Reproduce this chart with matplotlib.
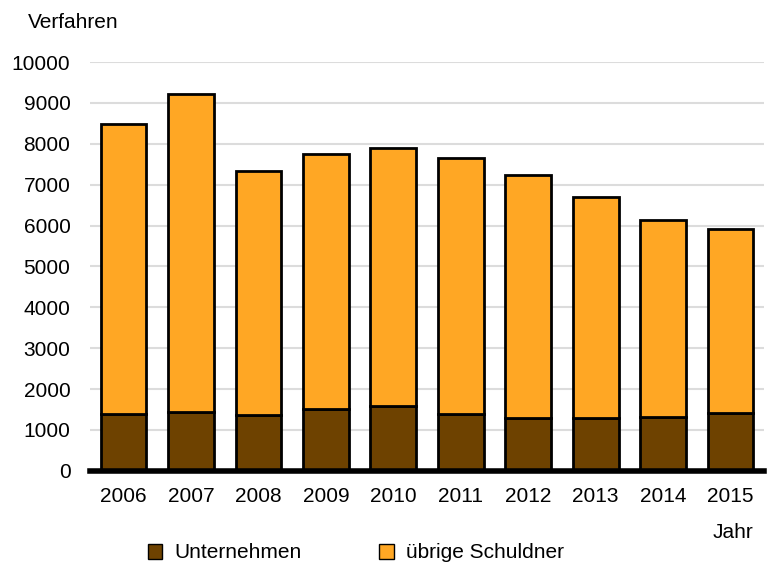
import matplotlib
matplotlib.use('Agg')
import matplotlib.pyplot as plt
import numpy as np
from matplotlib.patches import Patch

plt.rcParams['font.family'] = ['Liberation Sans', 'DejaVu Sans']

jahre = ['2006', '2007', '2008', '2009', '2010', '2011', '2012', '2013', '2014', '2015']
gesamt = [8480, 9210, 7340, 7755, 7910, 7660, 7245, 6700, 6145, 5925]
unternehmen = [1395, 1430, 1365, 1505, 1575, 1390, 1295, 1285, 1310, 1415]
uebrige = [g - u for g, u in zip(gesamt, unternehmen)]

braun = '#6E4200'
orange = '#FFA724'
fs = 15

fig = plt.figure(figsize=(7.68, 5.70), dpi=100)
ax = fig.add_axes([0.117, 0.174, 0.878, 0.717])

x = np.arange(len(jahre))
ax.bar(x, unternehmen, width=0.68, color=braun, edgecolor='black', linewidth=2, zorder=3)
ax.bar(x, uebrige, width=0.68, bottom=unternehmen, color=orange, edgecolor='black', linewidth=2, zorder=3)

ax.set_xlim(-0.5, 9.5)
ax.set_ylim(0, 10000)
ax.set_yticks(range(0, 10001, 1000))
ax.set_xticks(x)
ax.set_xticklabels(jahre)
ax.tick_params(axis='both', length=0, labelsize=fs)
ax.tick_params(axis='x', pad=12)
ax.tick_params(axis='y', pad=14)
ax.grid(axis='y', color='#DCDCDC', linewidth=1.5, zorder=0)

for s in ['top', 'right', 'left']:
    ax.spines[s].set_visible(False)
ax.spines['bottom'].set_linewidth(4)
ax.spines['bottom'].set_zorder(4)

fig.text(28 / 768, 1 - 22 / 570, 'Verfahren', fontsize=fs, va='center', ha='left')
fig.text(753 / 768, 1 - 532 / 570, 'Jahr', fontsize=fs, va='center', ha='right')

handles = [Patch(facecolor=braun, edgecolor='black', linewidth=1),
           Patch(facecolor=orange, edgecolor='black', linewidth=1)]
fig.legend(handles, ['Unternehmen', 'übrige Schuldner'], loc='center',
           bbox_to_anchor=(0.463, 1 - 553 / 570), ncol=2, frameon=False, fontsize=fs,
           handlelength=0.7, handleheight=0.7, handletextpad=0.56, columnspacing=3.75)

fig.savefig('out.png', dpi=100)
